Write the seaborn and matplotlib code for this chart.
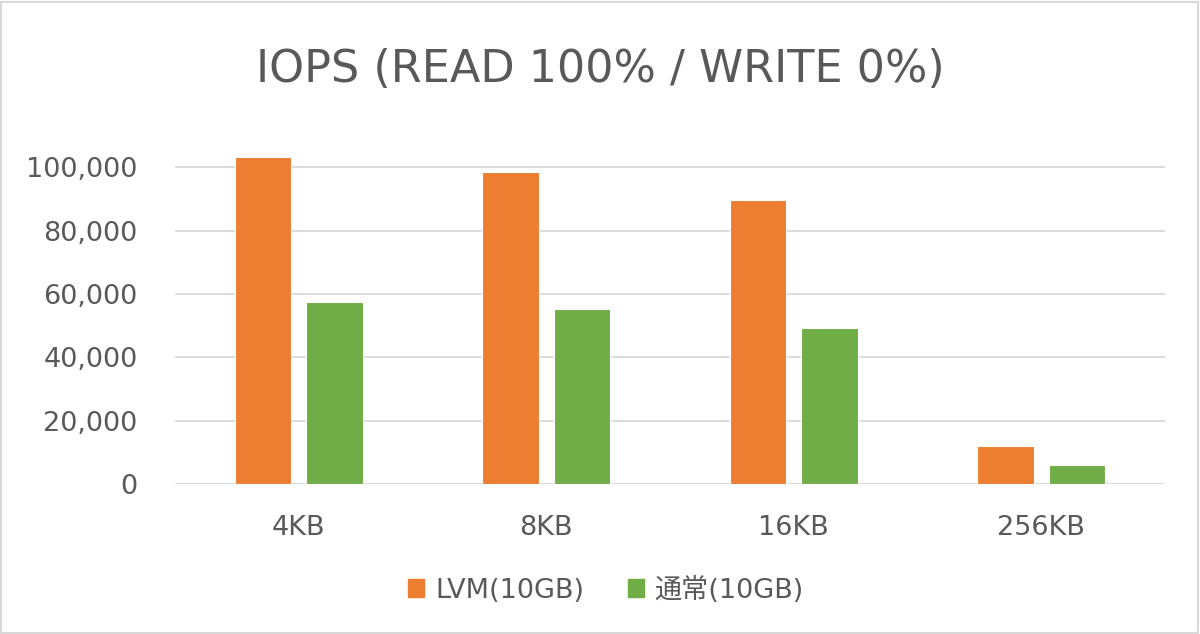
import numpy as np
import pandas as pd
import seaborn as sns
import matplotlib.pyplot as plt
from matplotlib.patches import Rectangle
from matplotlib.ticker import FuncFormatter

sizes = ["4KB", "8KB", "16KB", "256KB"]
series = ["LVM(10GB)", "通常(10GB)"]
lvm_iops = [103300, 98500, 89800, 11900]
normal_iops = [57350, 55400, 49150, 6100]
colors = ["#ED7D31", "#70AD47"]

data = pd.DataFrame({
    "size": sizes * 2,
    "iops": lvm_iops + normal_iops,
    "series": [series[0]] * len(sizes) + [series[1]] * len(sizes),
})

sns.set_theme(style="white")
plt.rcParams["font.family"] = ["DejaVu Sans", "Noto Sans CJK JP"]
text_color = "#595959"
grid_color = "#d9d9d9"

fig = plt.figure(figsize=(12, 6.34), dpi=100)
ax = fig.add_axes([175 / 1200, 1 - 484 / 634, 990 / 1200, 348.4 / 634])

sns.barplot(data=data, x="size", y="iops", hue="series", palette=colors,
            saturation=1, width=0.58, gap=0.21, edgecolor="white", linewidth=0.8,
            legend=False, ax=ax)

ax.set_ylim(0, 110000)
ax.set_xlim(-0.5, len(sizes) - 0.5)
ax.set_yticks(np.arange(0, 100001, 20000))
ax.yaxis.set_major_formatter(FuncFormatter(lambda v, p: f"{int(v):,}"))
ax.grid(axis="y", color=grid_color, linewidth=1.3)
ax.set_axisbelow(True)
for s in ax.spines.values():
    s.set_visible(False)
ax.set_xlabel("")
ax.set_ylabel("")
ax.tick_params(axis="y", length=0, pad=27, labelsize=19.5, labelcolor=text_color)
ax.tick_params(axis="x", length=0, pad=22, labelsize=19.5, labelcolor=text_color)

fig.text(0.5, 1 - 70 / 634, "IOPS (READ 100% / WRITE 0%)", ha="center", va="center",
         fontsize=32, color=text_color)

handles = [Rectangle((0, 0), 1, 1, color=c) for c in colors]
fig.legend(handles, series, loc="center", bbox_to_anchor=(0.505, 1 - 590 / 634), ncol=2,
           frameon=False, fontsize=19.5, labelcolor=text_color,
           handlelength=0.6, handleheight=0.6, handletextpad=0.4, columnspacing=1.6)

fig.patches.append(Rectangle((0.001, 0.002), 0.997, 0.995, transform=fig.transFigure,
                             fill=False, edgecolor=grid_color, linewidth=1.5))

fig.savefig("out.png", dpi=100)
